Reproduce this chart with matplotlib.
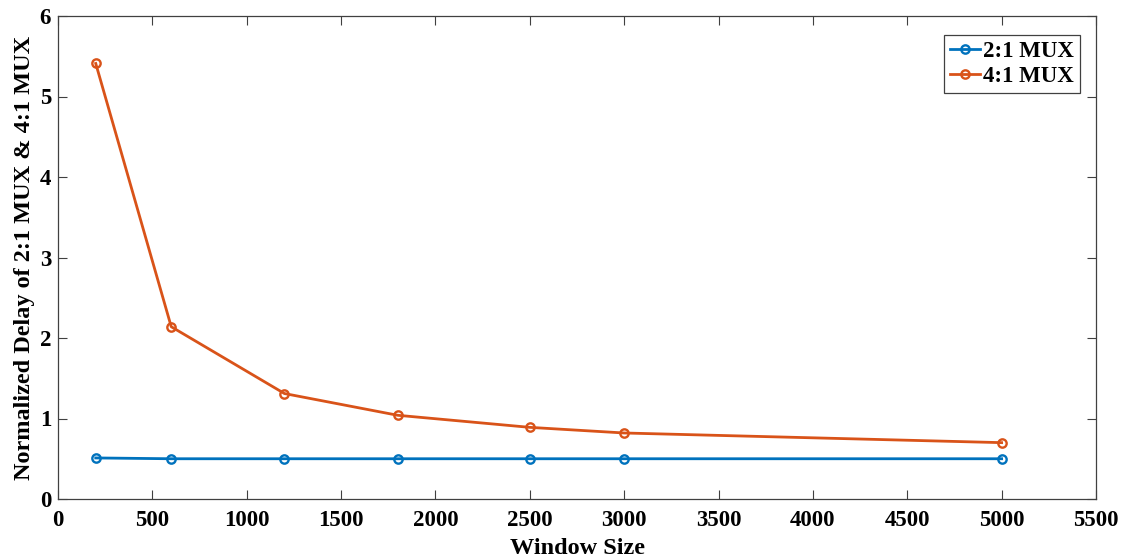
import matplotlib.pyplot as plt

# window sizes and normalized delay for each mux variant
window_size = [200, 600, 1200, 1800, 2500, 3000, 5000]
delay_mux2 = [0.51, 0.50, 0.50, 0.50, 0.50, 0.50, 0.50]
delay_mux4 = [5.41, 2.14, 1.31, 1.04, 0.89, 0.82, 0.70]

plt.rcParams["font.family"] = ["Liberation Serif", "DejaVu Serif"]
plt.rcParams["font.weight"] = "bold"

fig = plt.figure(figsize=(11.28, 5.6), dpi=100)
ax = fig.add_axes([58 / 1128, 61 / 560, 1038 / 1128, 483 / 560])

ax.plot(window_size, delay_mux2, color="#0072BD", lw=2.0, marker="o",
        ms=6, mfc="none", mew=1.7, label="2:1 MUX")
ax.plot(window_size, delay_mux4, color="#D95319", lw=2.0, marker="o",
        ms=6, mfc="none", mew=1.7, label="4:1 MUX")

ax.set_xlim(0, 5500)
ax.set_ylim(0, 6)
ax.set_xticks(range(0, 5501, 500))
ax.set_yticks(range(0, 7))
ax.tick_params(direction="in", top=True, right=True, labelsize=16.5,
               length=6.5, width=0.8, colors="#404040", labelcolor="black")
ax.tick_params(axis="x", pad=8)
ax.tick_params(axis="y", pad=5)
for s in ax.spines.values():
    s.set_color("#404040")
    s.set_linewidth(0.9)

ax.set_xlabel("Window Size", fontsize=17.5, fontweight="bold", labelpad=5)
ax.set_ylabel("Normalized Delay of 2:1 MUX & 4:1 MUX", fontsize=17.5,
              fontweight="bold", labelpad=3)

leg = ax.legend(loc="upper right", bbox_to_anchor=(1 - 16 / 1038, 1 - 19 / 483),
                borderaxespad=0, fontsize=16.5, handlelength=1.3,
                handletextpad=0.15, borderpad=0.25, labelspacing=0.2,
                fancybox=False, framealpha=1)
leg.get_frame().set_edgecolor("#404040")
leg.get_frame().set_linewidth(0.9)

fig.savefig("out.png", dpi=100)
